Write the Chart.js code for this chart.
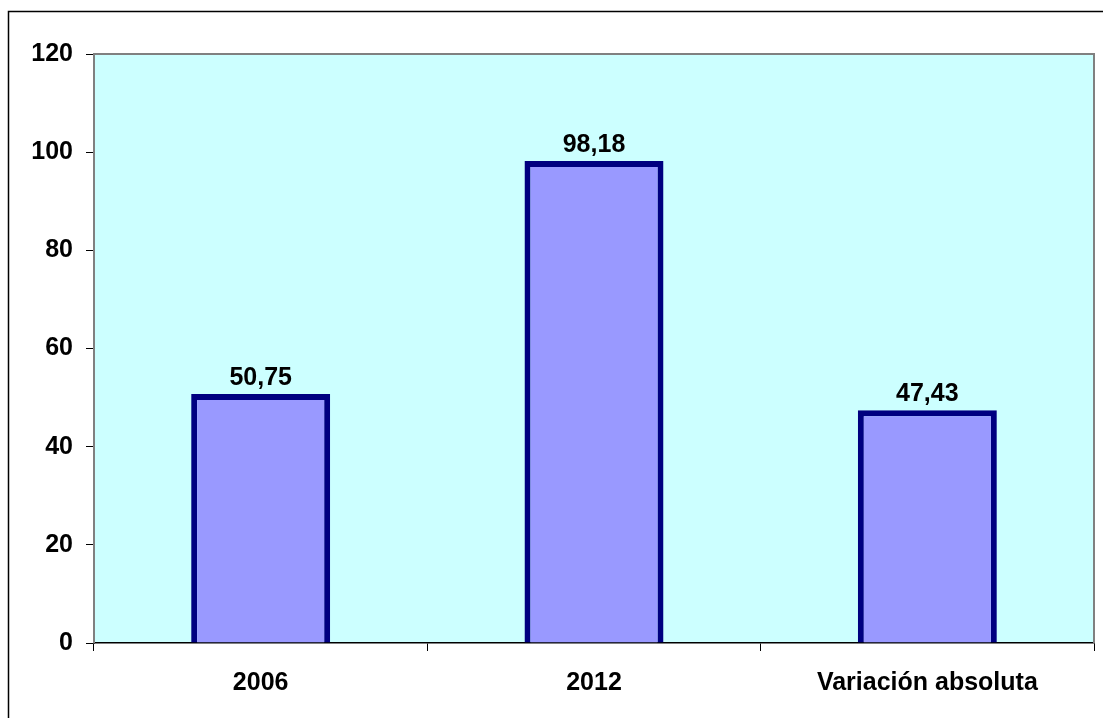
<!DOCTYPE html>
<html>
<head>
<meta charset="utf-8">
<script src="https://cdn.jsdelivr.net/npm/chart.js@4/dist/chart.umd.min.js"></script>
<style>
    html, body { margin: 0; padding: 0; background: #fff; }
    #wrap { width: 1103px; height: 718px; }
</style>
</head>
<body>
<div id="wrap"><canvas id="chart"></canvas></div>
<script>
// Data
const categories = ['2006', '2012', 'Variación absoluta'];
const values = [50.75, 98.18, 47.43];
const valueLabels = ['50,75', '98,18', '47,43'];
const yTicks = [0, 20, 40, 60, 80, 100, 120];

const fontFamily = '"Liberation Sans", Arial, sans-serif';
const font = 'bold 25px ' + fontFamily;

// White page, outer frame, cyan plot area with grey border
const framePlugin = {
    id: 'frame',
    beforeDraw(chart) {
        const ctx = chart.ctx;
        const a = chart.chartArea;
        ctx.save();
        ctx.fillStyle = '#fff';
        ctx.fillRect(0, 0, chart.width, chart.height);
        ctx.strokeStyle = '#000';
        ctx.lineWidth = 1.5;
        ctx.strokeRect(8.5, 11.5, chart.width, chart.height);
        ctx.fillStyle = '#CCFFFF';
        ctx.fillRect(a.left, a.top, a.right - a.left, a.bottom - a.top);
        ctx.restore();
    },
    afterDatasetsDraw(chart) {
        const ctx = chart.ctx;
        const a = chart.chartArea;
        ctx.save();
        ctx.strokeStyle = '#808080';
        ctx.lineWidth = 2;
        ctx.beginPath();
        ctx.moveTo(a.left, a.bottom);
        ctx.lineTo(a.left, a.top);
        ctx.lineTo(a.right, a.top);
        ctx.lineTo(a.right, a.bottom);
        ctx.stroke();
        ctx.restore();
    }
};

// Value labels above each bar
const labelPlugin = {
    id: 'valueLabels',
    afterDatasetsDraw(chart) {
        const ctx = chart.ctx;
        ctx.save();
        ctx.font = font;
        ctx.fillStyle = '#000';
        ctx.textAlign = 'center';
        ctx.textBaseline = 'alphabetic';
        chart.getDatasetMeta(0).data.forEach((bar, i) => {
            ctx.fillText(valueLabels[i], bar.x, bar.y - 9);
        });
        ctx.restore();
    }
};

new Chart(document.getElementById('chart'), {
    type: 'bar',
    data: {
        labels: categories,
        datasets: [{
            data: values,
            backgroundColor: '#9999FF',
            borderColor: '#000080',
            borderWidth: 6,
            categoryPercentage: 1,
            barPercentage: 0.417
        }]
    },
    options: {
        responsive: true,
        maintainAspectRatio: false,
        animation: false,
        layout: { padding: { left: 0, top: 54, right: 9, bottom: 0 } },
        plugins: {
            legend: { display: false },
            tooltip: { enabled: false }
        },
        scales: {
            y: {
                min: 0,
                max: 120,
                afterFit(scale) { scale.width = 94; },
                afterBuildTicks(scale) { scale.ticks = yTicks.map(v => ({ value: v })); },
                ticks: {
                    color: '#000',
                    font: { family: fontFamily, size: 25, weight: 'bold' },
                    padding: 13
                },
                grid: {
                    drawOnChartArea: false,
                    tickLength: 8,
                    color: '#000',
                    lineWidth: 1
                },
                border: { color: '#808080', width: 2 }
            },
            x: {
                afterFit(scale) { scale.height = 75; },
                ticks: {
                    color: '#000',
                    font: { family: fontFamily, size: 25, weight: 'bold' },
                    padding: 17,
                    maxRotation: 0
                },
                grid: {
                    offset: true,
                    drawOnChartArea: false,
                    tickLength: 8,
                    color: '#000',
                    lineWidth: 1
                },
                border: { color: '#000', width: 1.5 }
            }
        }
    },
    plugins: [framePlugin, labelPlugin]
});
</script>
</body>
</html>
